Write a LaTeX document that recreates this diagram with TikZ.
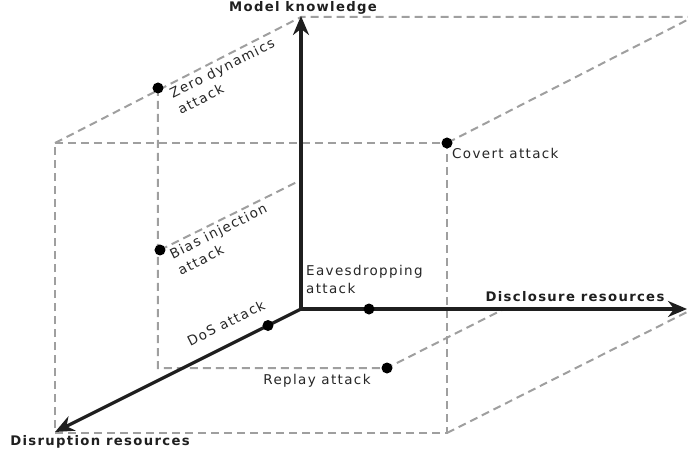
\documentclass[tikz,border=0pt]{standalone}
\usepackage{fontspec}
\setmainfont[LetterSpace=10]{DejaVu Sans}
\usetikzlibrary{arrows.meta}

\tikzset{
  axis/.style={line width=3.2pt, draw=black!88, -{Stealth[length=19pt,width=16pt]}},
  guide/.style={draw=gray!75, line width=2pt, dash pattern=on 8pt off 5pt},
  dot/.style={circle, fill=black, inner sep=0pt, minimum size=11pt},
  lbl/.style={inner sep=0pt, align=left, text=black!85},
  axlbl/.style={inner sep=0pt, font=\fontsize{13.2}{15}\selectfont\bfseries, text=black!88}
}

\begin{document}
\begin{tikzpicture}[x=1pt,y=1pt,font=\fontsize{13.5}{18}\selectfont]
\useasboundingbox (-301,-146) rectangle (387,309);
\clip (-301,-146) rectangle (387,309);

\coordinate (o) at (0,0);
\coordinate (mk) at (0,293);
\coordinate (dc) at (386,0);
\coordinate (dr) at (-246,-123);

% dashed box
\coordinate (a) at (-246,166);
\coordinate (b) at (146,166);
\coordinate (c) at (146,-124);
\coordinate (d) at (-246,-124);
\coordinate (e) at (0,292);
\coordinate (f) at (392,292);
\coordinate (g) at (392,0);

% attack points
\coordinate (zd) at (-143,221);
\coordinate (zb) at (-143,-59);
\coordinate (rp) at (86,-59);
\coordinate (rx) at (203,0);
\coordinate (bi) at (-141,59);
\coordinate (bx) at (0,129);
\coordinate (dos) at (-33,-16.5);
\coordinate (ev) at (68,0);

\draw[guide] (a) -- (b) -- (c) -- (d) -- cycle;
\draw[guide] (a) -- (e) -- (f) -- (b);
\draw[guide] (c) -- (g);
\draw[guide] (zd) -- (zb) -- (rp) -- (rx);
\draw[guide] (bi) -- (bx);

\draw[axis] (o) -- (mk);
\draw[axis] (o) -- (dc);
\draw[axis] (o) -- (dr);

\foreach \p in {zd,bi,b,dos,ev,rp}
  \node[dot] (\p-dot) at (\p) {};

\node[lbl, rotate=26.57, anchor=north west] (zd-lbl) at ([shift={(10,-1)}]zd) {Zero dynamics\\attack};
\node[lbl, rotate=26.57, anchor=north west] (bi-lbl) at ([shift={(8,0)}]bi) {Bias injection\\attack};
\node[lbl, anchor=north west] (b-lbl) at ([shift={(5,-5)}]b) {Covert attack};
\node[lbl, anchor=north west] (ev-lbl) at (5,44) {Eavesdropping\\attack};
\node[lbl, rotate=26.57] (dos-lbl) at (-75,-14) {DoS attack};
\node[lbl] (rp-lbl) at (16,-72) {Replay attack};

\node[axlbl] (mk-lbl) at (2,301) {Model knowledge};
\node[axlbl] (dc-lbl) at (274,12) {Disclosure resources};
\node[axlbl] (dr-lbl) at (-201,-133) {Disruption resources};

\end{tikzpicture}
\end{document}
